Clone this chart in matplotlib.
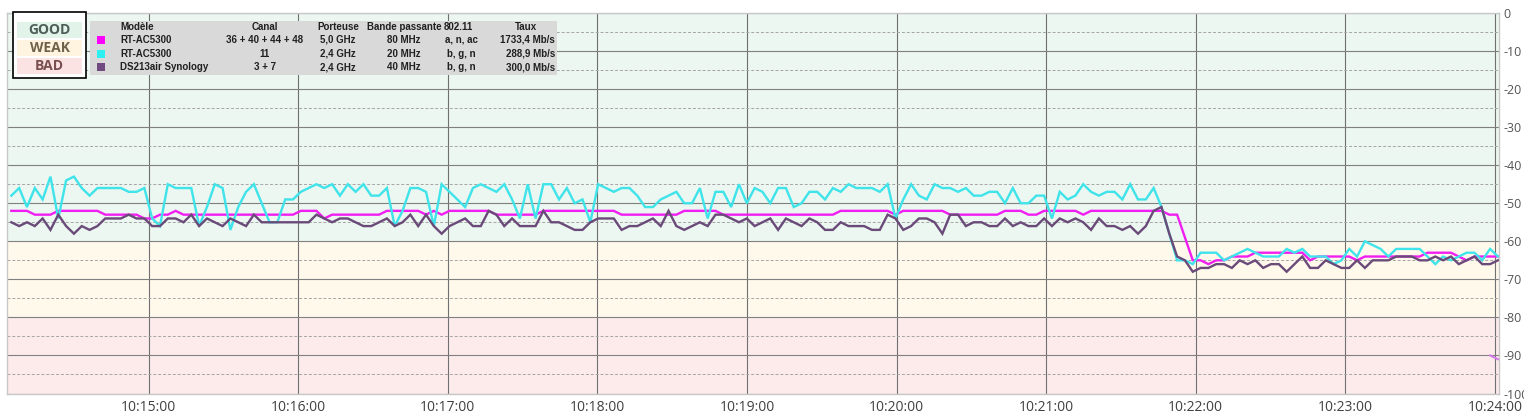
import numpy as np
import pandas as pd
import matplotlib
matplotlib.use("Agg")
import matplotlib.pyplot as plt
import matplotlib.dates as mdates
from matplotlib.patches import Rectangle

plt.rcParams['axes.unicode_minus'] = False

# ---------------- data ----------------
start_time = "2020-01-01 10:14:04.9"
end_time = "2020-01-01 10:24:01.2"
x_min = "2020-01-01 10:14:03.16"
x_max = "2020-01-01 10:24:01.64"

# RT-AC5300 5 GHz (magenta)
rt5g = ([-52, -52, -52, -53, -53, -53, -52, -52, -52, -52, -52, -52, -53, -53, -53, -53,
         -53, -54, -54, -53, -53, -52, -53, -53, -53, -53, -53, -53, -53, -53, -53, -53]
        + [-53, -53, -53, -53, -53, -52, -52, -52, -54, -53, -53, -53, -53, -53, -53, -53,
           -52, -52, -52, -52, -52, -53, -52, -53, -52, -52, -52, -52, -52, -52, -53, -53]
        + [-53, -53, -53, -53, -52, -52, -52, -52, -52, -52, -52, -52, -52, -52, -53, -53,
           -53, -53, -53, -53, -53, -53, -52, -52, -52, -52, -52, -53, -53, -53, -53]
        + [-53, -53, -53, -53, -53, -53, -53, -53, -53, -53, -53, -52, -52, -52, -52, -52,
           -52, -52, -53, -52, -52, -52, -52, -52, -52, -53, -53, -53, -53, -53, -53]
        + [-53, -52, -52, -52, -53, -53, -52, -52, -52, -52, -52, -53, -52, -52, -52, -52,
           -52, -52, -52, -52, -52]
        + [-52, -53, -53, -59, -65, -65, -66, -65, -65, -64, -64]
        + [-64, -63, -63, -63, -63, -63, -63, -63, -65, -64, -64, -64, -64, -64, -65, -64,
           -64, -64, -64, -64, -64, -64, -64, -63, -63, -63, -63, -64, -65, -64, -64, -64, -64])

# RT-AC5300 2.4 GHz (cyan)
rt24 = ([-48, -46, -51, -46, -49, -43, -54, -44, -43, -46, -48, -46, -46, -46, -46, -47,
         -47, -46, -54, -56, -45, -46, -46, -46, -56, -51, -45, -46, -57, -51, -47, -45]
        + [-50, -55, -55, -49, -49, -47, -46, -45, -46, -45, -48, -45, -47, -45, -48, -48,
           -46, -56, -52, -46, -46, -47, -56, -45, -47, -49, -51, -46, -45, -46, -47, -45]
        + [-49, -54, -45, -54, -45, -45, -49, -46, -50, -49, -55, -45, -46, -47, -46, -46,
           -48, -51, -51, -49, -48, -47, -50, -50, -46, -54, -47, -47, -51, -45, -50]
        + [-46, -47, -50, -46, -46, -51, -50, -47, -47, -49, -46, -47, -45, -46, -46, -46,
           -47, -45, -54, -49, -45, -48, -49, -45, -46, -46, -47, -46, -48, -48, -47]
        + [-47, -50, -46, -50, -50, -48, -48, -54, -47, -49, -48, -45, -47, -48, -47, -47,
           -49, -45, -49, -49, -46]
        + [-51, -58, -65, -65, -66, -63, -63, -63, -65, -64, -63]
        + [-62, -63, -64, -64, -64, -62, -63, -62, -64, -64, -64, -66, -65, -62, -64, -60,
           -61, -62, -64, -62, -62, -62, -62, -64, -66, -64, -65, -64, -63, -63, -65, -62, -64])

# DS213air Synology (purple)
ds213 = ([-55, -56, -55, -56, -54, -57, -53, -56, -58, -56, -57, -56, -54, -54, -54, -53,
          -54, -54, -56, -56, -54, -54, -55, -53, -56, -54, -55, -56, -54, -55, -56, -53]
         + [-55, -55, -55, -55, -55, -55, -55, -53, -54, -55, -54, -54, -55, -56, -56, -55,
            -54, -56, -55, -53, -56, -53, -56, -58, -56, -55, -54, -56, -56, -52, -53, -56]
         + [-54, -56, -56, -56, -52, -55, -55, -56, -57, -57, -55, -54, -54, -54, -57, -56,
            -56, -55, -54, -56, -52, -56, -57, -56, -55, -56, -53, -53, -54, -55, -54]
         + [-56, -55, -54, -57, -54, -55, -56, -54, -55, -57, -57, -55, -56, -56, -56, -57,
            -57, -53, -54, -57, -56, -54, -54, -55, -58, -53, -53, -56, -55, -55, -56]
         + [-56, -54, -56, -55, -56, -56, -54, -56, -54, -55, -54, -55, -57, -54, -56, -56,
            -57, -56, -58, -56, -52]
         + [-51, -58, -64, -65, -68, -67, -67, -66, -66, -67, -65]
         + [-66, -65, -67, -66, -66, -68, -66, -64, -67, -67, -65, -66, -67, -67, -65, -67,
            -65, -65, -65, -64, -64, -64, -65, -65, -64, -65, -64, -66, -65, -64, -66, -66, -65])

# unknown network appearing at the very end (light violet)
other_tail = [-90, -91]

quality_labels = ["GOOD", "WEAK", "BAD"]
quality_bounds = [0, -60, -80, -100]

legend_header = ["Modèle", "Canal", "Porteuse", "Bande passante", "802.11", "Taux"]
legend_rows = [
    ["RT-AC5300", "36 + 40 + 44 + 48", "5,0 GHz", "80 MHz", "a, n, ac", "1733,4 Mb/s"],
    ["RT-AC5300", "11", "2,4 GHz", "20 MHz", "b, g, n", "288,9 Mb/s"],
    ["DS213air Synology", "3 + 7", "2,4 GHz", "40 MHz", "b, g, n", "300,0 Mb/s"],
]
y_ticks = list(range(0, -101, -10))

# ---------------- styles ----------------
series_colors = ["#F01EF0", "#3FE3EA", "#6A4A78"]
tail_color = "#D27BEA"
band_colors = ["#EBF7F0", "#FFF9EC", "#FDEBEC"]
label_bg = ["#E2F3EA", "#FEF4E0", "#FBE3E3"]
label_fg = ["#4D5E58", "#6E6248", "#7A4E4E"]
square_colors = ["#FF00FF", "#2FF0F0", "#714A82"]

W, H = 1524, 415
fig = plt.figure(figsize=(W / 100, H / 100), dpi=100)

def fx(x):
    return x / W

def fy(y):
    return 1 - y / H

ax = fig.add_axes([fx(7), fy(393.5), fx(1499) - fx(7), fy(13) - fy(393.5)])

# quality bands
for i in range(3):
    ax.axhspan(quality_bounds[i + 1], quality_bounds[i], color=band_colors[i], zorder=0, lw=0)

times = pd.date_range(start_time, end_time, periods=len(rt24))

ax.plot(times, rt5g, color=series_colors[0], lw=1.7, zorder=3, solid_joinstyle='miter')
ax.plot(times, rt24, color=series_colors[1], lw=1.7, zorder=3, solid_joinstyle='miter')
ax.plot(times, ds213, color=series_colors[2], lw=1.7, zorder=3, solid_joinstyle='miter')
ax.plot(times[-len(other_tail):], other_tail, color=tail_color, lw=1.5, zorder=3)

ax.set_ylim(-100, 0)
ax.set_xlim(pd.Timestamp(x_min), pd.Timestamp(x_max))

ax.set_yticks(y_ticks)
ax.set_yticks(list(range(-95, 0, 10)), minor=True)
ax.yaxis.tick_right()
ax.tick_params(axis='y', which='both', length=0, pad=3, labelsize=9, labelcolor='#555555')
ax.set_yticklabels([str(v) for v in y_ticks], fontfamily='Open Sans')

ax.xaxis.set_major_locator(mdates.MinuteLocator())
ax.xaxis.set_major_formatter(mdates.DateFormatter("%H:%M:%S"))
ax.tick_params(axis='x', which='both', length=0, pad=5, labelsize=10, labelcolor='#404040')
for lab in ax.get_xticklabels():
    lab.set_fontfamily('Open Sans')

ax.grid(True, axis='y', which='major', color='#808080', lw=0.8, ls='-', zorder=1)
ax.grid(True, axis='y', which='minor', color='#A5A5A5', lw=0.7, ls=(0, (3, 2)), zorder=1)
ax.grid(True, axis='x', which='major', color='#707070', lw=0.8, ls='-', zorder=1)
ax.set_axisbelow(True)

for s in ax.spines.values():
    s.set_color('#C8C8C8')
    s.set_linewidth(1)

# ---- quality legend box ----
fig.patches.append(Rectangle((fx(13), fy(78)), fx(86) - fx(13), fy(12) - fy(78),
                             transform=fig.transFigure, facecolor='white',
                             edgecolor='black', lw=1.2, zorder=5))
row_y = [30, 48, 66]
for i, lab in enumerate(quality_labels):
    fig.patches.append(Rectangle((fx(17), fy(row_y[i] + 8)), fx(82) - fx(17), fy(row_y[i] - 8) - fy(row_y[i] + 8),
                                 transform=fig.transFigure, facecolor=label_bg[i],
                                 edgecolor='none', zorder=6))
    fig.text(fx(49.5), fy(row_y[i]), lab, ha='center', va='center', fontsize=10,
             fontweight='bold', color=label_fg[i], family='Open Sans', zorder=7)

# ---- table legend ----
fig.patches.append(Rectangle((fx(90), fy(75)), fx(557) - fx(90), fy(21) - fy(75),
                             transform=fig.transFigure, facecolor='#D9D9D9',
                             edgecolor='none', zorder=5))
col_x = [120, 265, 338, 404, 461, 555]
col_ha = ['left', 'center', 'center', 'center', 'center', 'right']
header_x = [120, 265, 338, 404, 458, 526]
header_ha = ['left', 'center', 'center', 'center', 'center', 'center']
t_rows = [27, 40, 54, 67]
for j, h in enumerate(legend_header):
    fig.text(fx(header_x[j]), fy(t_rows[0]), h, ha=header_ha[j], va='center', fontsize=7,
             fontweight='bold', color='#202020', family='Liberation Sans', zorder=7)
for i, row in enumerate(legend_rows):
    fig.patches.append(Rectangle((fx(97), fy(t_rows[i + 1] + 4)), fx(105) - fx(97),
                                 fy(t_rows[i + 1] - 4) - fy(t_rows[i + 1] + 4),
                                 transform=fig.transFigure, facecolor=square_colors[i],
                                 edgecolor='none', zorder=6))
    for j, cell in enumerate(row):
        fig.text(fx(col_x[j]), fy(t_rows[i + 1]), cell, ha=col_ha[j], va='center', fontsize=7,
                 fontweight='bold', color='#202020', family='Liberation Sans', zorder=7)

fig.savefig("out.png", dpi=100)
